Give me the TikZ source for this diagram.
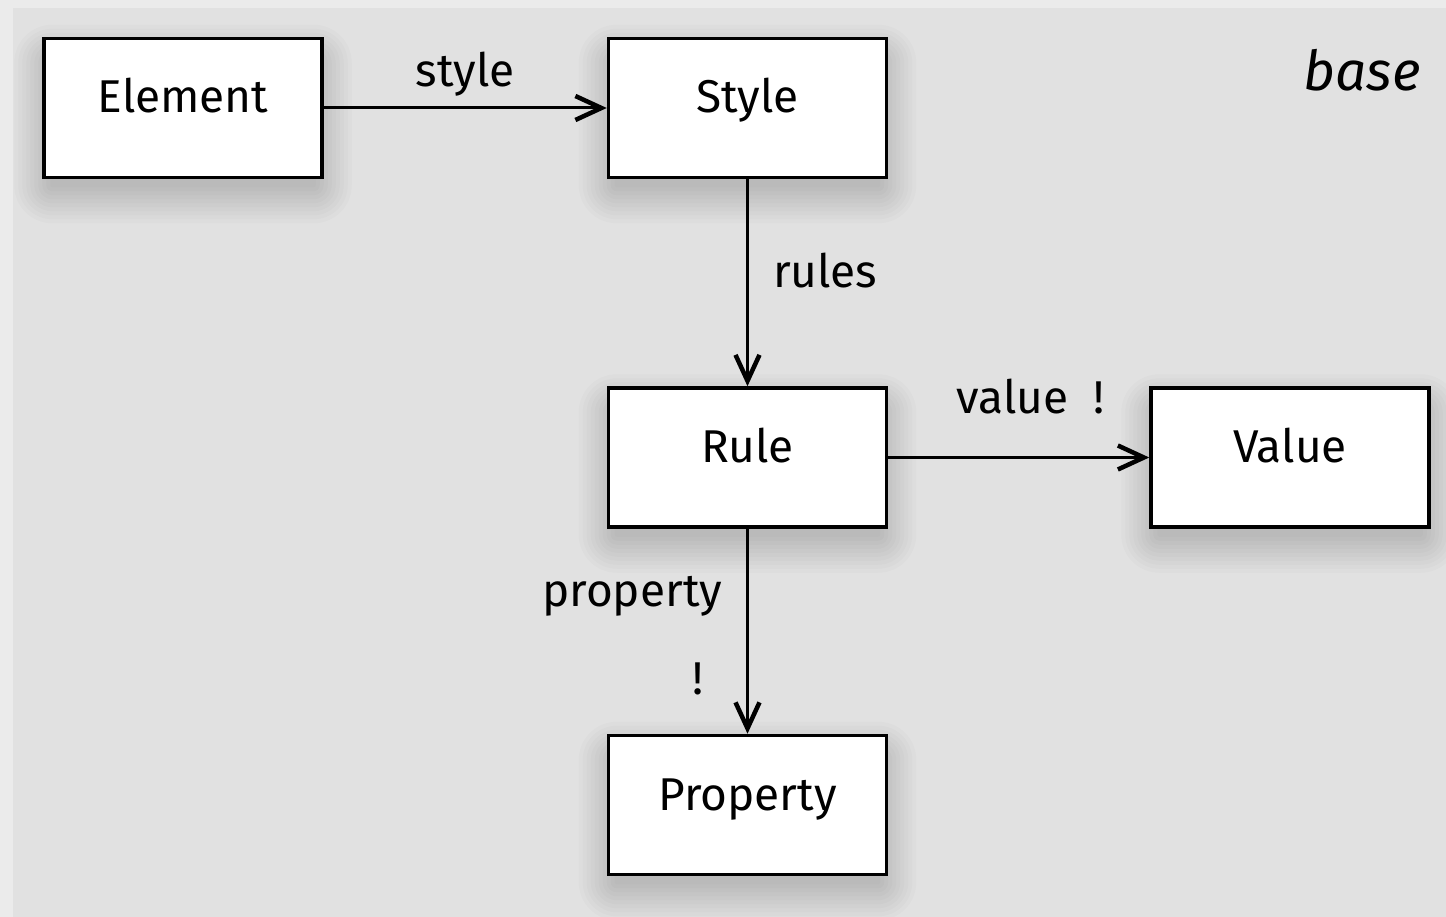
\documentclass[tikz,border=0pt]{standalone}
\usepackage{fontspec}
\setmainfont{Fira Sans}
\usetikzlibrary{positioning,arrows.meta,backgrounds}

\definecolor{outergray}{HTML}{EBEBEB}
\definecolor{innergray}{HTML}{E1E1E1}

\tikzset{
    classbox/.style={draw, fill=white, line width=3.5pt,
        minimum width=278pt, minimum height=139pt, inner sep=0pt,
        text height=32pt, text depth=22pt,
        font=\fontsize{46}{55}\selectfont},
    link/.style={line width=3pt,
        -{Straight Barb[length=26pt,width=24pt,line width=4.5pt,line join=miter]}},
    linklabel/.style={font=\fontsize{46}{55}\selectfont, inner sep=0pt}
}

\begin{document}
\begin{tikzpicture}[x=1pt, y=-1pt]
        \useasboundingbox (0,0) rectangle (1446,917);

        % Nodes

        \node[classbox] (element) at (183,108) {Element};
        \node[classbox, right=283pt of element] (style) {Style};
        \node[classbox, below=207pt of style] (rule) {Rule};
        \node[classbox, right=261pt of rule] (value) {Value};
        \node[classbox, below=205pt of rule] (property) {Property};
        \node[font=\fontsize{55}{66}\selectfont\itshape, inner sep=0pt] (base) at (1362,70) {base};

        % Edges

        \draw[link] (element) -- node[linklabel, above=10pt] (stylelabel) {style} (style);
        \draw[link] (style) -- node[linklabel, right=24pt, pos=0.44] (ruleslabel) {rules} (rule);
        \draw[link] (rule) -- node[linklabel, above=42pt, pos=0.545] (valuelabel) {value\ \ !} (value);
        \draw[link] (rule) -- node[linklabel, left=24pt, pos=0.33] (propertylabel) {property} (property);
        \node[linklabel] (bang) at ([xshift=-49pt, yshift=55pt]property.north) {!};

        % Background and shadows

        \begin{scope}[on background layer]
            \fill[outergray] (0,0) rectangle (1446,917);
            \fill[innergray] (13,8) rectangle (1446,917);
            \foreach \cls in {element,style,rule,value,property} {
                \foreach \r in {-8,-4,...,28} {
                    \fill[black, opacity=0.014, rounded corners=\r pt+10pt]
                        ([xshift=-\r pt, yshift=-16pt+\r pt]\cls.north west)
                        rectangle ([xshift=\r pt, yshift=-16pt-\r pt]\cls.south east);
                }
            }
        \end{scope}

    \end{tikzpicture}
\end{document}
